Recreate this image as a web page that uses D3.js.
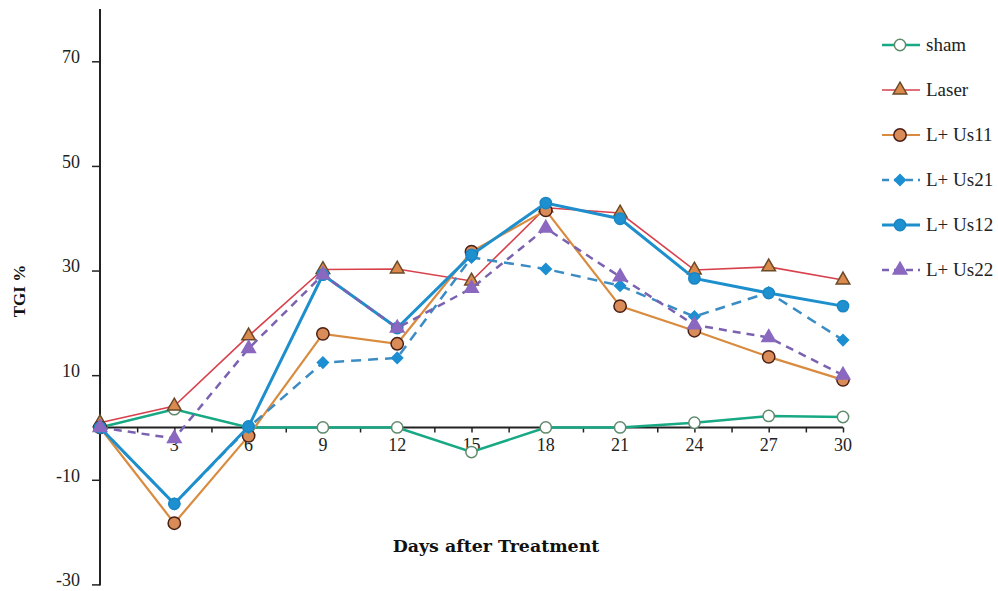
<!DOCTYPE html>
<html><head><meta charset="utf-8">
<script src="https://cdn.jsdelivr.net/npm/d3@7"></script>
<style>body{margin:0;background:#fff;}svg{display:block;}</style>
</head><body>
<svg id="c" width="998" height="591"></svg>
<script>
const days = [0,3,6,9,12,15,18,21,24,27,30];
const xTicks = [3,6,9,12,15,18,21,24,27,30];
const yTicks = [70,50,30,10,-10,-30];
const seriesNames = ["sham","Laser","L+ Us11","L+ Us21","L+ Us12","L+ Us22"];
const sham   = [0, 3.5, 0, 0, 0, -4.7, 0, 0, 0.9, 2.2, 2.0];
const laser  = [0.9, 4.1, 17.5, 30.2, 30.3, 28.0, 42.0, 41.0, 30.1, 30.7, 28.2];
const lus11  = [0, -18.3, -1.6, 17.9, 16.0, 33.6, 41.5, 23.2, 18.5, 13.5, 9.1];
const lus21  = [0, -14.6, 0, 12.4, 13.3, 32.5, 30.3, 27.1, 21.2, 25.8, 16.7];
const lus12  = [0, -14.6, 0.2, 29.2, 19.0, 33.0, 42.9, 39.9, 28.5, 25.7, 23.2];
const lus22  = [0, -2.1, 15.1, 29.2, 19.0, 26.6, 38.1, 28.8, 19.6, 17.2, 10.0];

const styles = [
  {line:"#17a884", w:2.5, dash:null, sym:"circle", fill:"#ffffff", stroke:"#5f8a6c", size:100, rot:0},
  {line:"#d8414c", w:1.6, dash:null, sym:"triangle", fill:"#d98a4c", stroke:"#6b4a2a", size:80, rot:0},
  {line:"#d98b3f", w:2.2, dash:null, sym:"circle", fill:"#d98b58", stroke:"#4a1f14", size:120, rot:0},
  {line:"#3b8cc4", w:2.5, dash:"10,7", sym:"square", fill:"#1c8fd2", stroke:"#1c8fd2", size:60, rot:45},
  {line:"#1e8fcd", w:3, dash:null, sym:"circle", fill:"#1e90d0", stroke:"#1b86c4", size:100, rot:0},
  {line:"#7a62b0", w:2.5, dash:"8,6", sym:"triangle", fill:"#8a68c0", stroke:"#8a68c0", size:80, rot:0}
];
const data = [sham, laser, lus11, lus21, lus12, lus22];

const svg = d3.select("#c");
const x = d3.scaleLinear().domain([0,30]).range([100,843]);
const y = d3.scaleLinear().domain([-30,80]).range([584.4,9]);
const serif = "'Liberation Serif','DejaVu Serif',serif";
const boldSerif = "'DejaVu Serif','Liberation Serif',serif";

// y axis
const yAxis = d3.axisLeft(y).tickValues(yTicks).tickSize(8).tickPadding(12).tickFormat(d=>String(d));
const gy = svg.append("g").attr("transform","translate(100,0)").call(yAxis);
gy.select(".domain").remove();
gy.append("line").attr("x1",0).attr("x2",0).attr("y1",9).attr("y2",y(-30)+1).attr("stroke","#222").attr("stroke-width",2);
gy.selectAll(".tick line").attr("stroke","#222").attr("stroke-width",1.5);
gy.selectAll(".tick text").attr("font-family",serif).attr("font-size",18).attr("fill","#222").attr("dy","0.08em");

// x axis at zero
const xAxis = d3.axisBottom(x).tickValues(d3.range(1.5,30.1,1.5)).tickSize(5).tickFormat("");
const gx = svg.append("g").attr("transform",`translate(0,${y(0)})`).call(xAxis);
gx.select(".domain").remove();
gx.append("line").attr("x1",100).attr("x2",843).attr("stroke","#222").attr("stroke-width",2);
gx.selectAll(".tick line").attr("stroke","#222").attr("stroke-width",1.5);
gx.selectAll(".xl").data(xTicks).enter().append("text")
  .attr("x",d=>x(d)).attr("y",24).attr("text-anchor","middle")
  .attr("font-family",serif).attr("font-size",18).attr("fill","#222").text(d=>d);

// titles
svg.append("text").attr("x",496).attr("y",552).attr("text-anchor","middle")
  .attr("font-family",boldSerif).attr("font-weight","bold").attr("font-size",17.4).attr("fill","#111")
  .text("Days after Treatment");
svg.append("text").attr("transform","translate(25,291) rotate(-90)").attr("text-anchor","middle")
  .attr("font-family",serif).attr("font-weight","bold").attr("font-size",17).attr("fill","#111").text("TGI %");

const symMap = {circle:d3.symbolCircle, triangle:d3.symbolTriangle, square:d3.symbolSquare};
const line = d3.line().x((d,i)=>x(days[i])).y(d=>y(d));

data.forEach((vals,k)=>{
  const s = styles[k];
  const g = svg.append("g");
  g.append("path").attr("d",line(vals)).attr("fill","none").attr("stroke",s.line)
    .attr("stroke-width",s.w).attr("stroke-dasharray",s.dash);
  g.selectAll("path.m").data(vals).enter().append("path").attr("class","m")
    .attr("transform",(d,i)=>`translate(${x(days[i])},${y(d)}) rotate(${s.rot})`)
    .attr("d",d3.symbol().type(symMap[s.sym]).size(s.size))
    .attr("fill",s.fill).attr("stroke",s.stroke).attr("stroke-width",1.5);
});

// legend
const leg = svg.append("g");
seriesNames.forEach((n,k)=>{
  const s = styles[k];
  const yy = 45 + k*45;
  leg.append("line").attr("x1",882).attr("x2",920).attr("y1",yy).attr("y2",yy)
    .attr("stroke",s.line).attr("stroke-width",s.w).attr("stroke-dasharray",s.dash ? "7,5" : null);
  leg.append("path").attr("transform",`translate(900,${yy}) rotate(${s.rot})`)
    .attr("d",d3.symbol().type(symMap[s.sym]).size(s.size)).attr("fill",s.fill).attr("stroke",s.stroke).attr("stroke-width",1.5);
  leg.append("text").attr("x",926).attr("y",yy).attr("dy","0.32em")
    .attr("font-family",serif).attr("font-size",19).attr("fill","#222").text(n);
});
</script>
</body></html>
